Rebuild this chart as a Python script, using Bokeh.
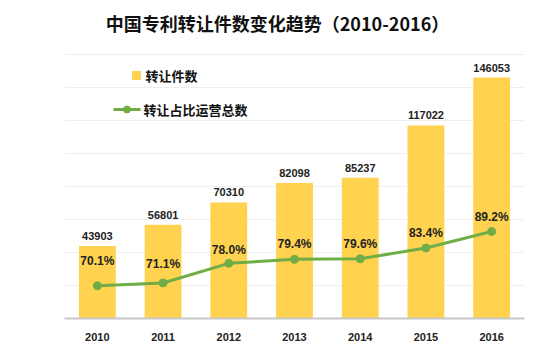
from bokeh.plotting import figure
from bokeh.models import Range1d, FixedTicker, Label, ColumnDataSource
from bokeh.core.properties import value
from bokeh.embed import file_html
from bokeh.resources import INLINE

years = ["2010", "2011", "2012", "2013", "2014", "2015", "2016"]
transfers = [43903, 56801, 70310, 82098, 85237, 117022, 146053]
share_pct = [70.1, 71.1, 78.0, 79.4, 79.6, 83.4, 89.2]
pct_labels = ["70.1%", "71.1%", "78.0%", "79.4%", "79.6%", "83.4%", "89.2%"]
grid_values = [20000, 40000, 60000, 80000, 100000, 120000, 140000, 160000]
title_text = "中国专利转让件数变化趋势（2010-2016）"
legend_bar = "转让件数"
legend_line = "转让占比运营总数"

# styling
pct_label_dy = [-25, -19, -13, -15, -15, -15, -15]
BAR = "#FFD34F"
LINE = "#70AD47"
CJK = "Noto Sans CJK SC"
NUM = "Liberation Sans"

# frame covers the canvas from the top down to the baseline (y=318 px);
# 160000 sits 264 px above the baseline, percentage scale 2.843 px per point from 58.6
ppx = 7 / 460.0
ppy = 160000 / 264.0
Y_END = 318 * ppy
PCT_START = 58.6
PCT_END = PCT_START + 318 / 2.843

def dx(px):
    return (px - 64) * ppx
def dy(py):
    return (318 - py) * ppy

xs = [i + 0.5 for i in range(len(years))]
src = ColumnDataSource(dict(
    x=xs, year=years, v=transfers, vlab=[str(t) for t in transfers],
    p=share_pct, plab=pct_labels, pdy=pct_label_dy,
))

p = figure(width=554, height=352, output_backend="svg", toolbar_location=None,
           x_range=Range1d(0, 7), y_range=Range1d(0, Y_END),
           min_border_left=64, min_border_right=30, min_border_top=0, min_border_bottom=34)
p.outline_line_color = None
p.background_fill_color = "white"
p.border_fill_color = "white"
p.xgrid.visible = False
p.ygrid.ticker = FixedTicker(ticks=grid_values)
p.ygrid.grid_line_color = "#eeeeee"
p.ygrid.grid_line_width = 1
p.yaxis.visible = False

p.xaxis.ticker = FixedTicker(ticks=xs)
p.xaxis.major_label_overrides = {x: y for x, y in zip(xs, years)}
p.xaxis.axis_line_color = "#c8c8c8"
p.xaxis.axis_line_width = 2
p.xaxis.major_tick_line_color = None
p.xaxis.minor_tick_line_color = None
p.xaxis.major_label_text_font = NUM
p.xaxis.major_label_text_font_style = "bold"
p.xaxis.major_label_text_font_size = "11px"
p.xaxis.major_label_text_color = "#222222"
p.xaxis.major_label_standoff = 8

p.extra_y_ranges = {"pct": Range1d(PCT_START, PCT_END)}

p.vbar(x="x", top="v", width=0.56, bottom=0, source=src, fill_color=BAR, line_color=None)
p.text(x="x", y="v", text="vlab", source=src, text_align="center", text_baseline="bottom",
       y_offset=-6, text_font=value(NUM), text_font_style="bold", text_font_size="11px",
       text_color="#222222")

p.line(x="x", y="p", source=src, y_range_name="pct", line_color=LINE, line_width=3)
p.scatter(x="x", y="p", source=src, y_range_name="pct", size=8, fill_color=LINE, line_color=LINE)
p.text(x="x", y="p", text="plab", source=src, y_range_name="pct", text_align="center",
       text_baseline="middle", y_offset="pdy", text_font=value(NUM), text_font_style="bold",
       text_font_size="12px", text_color="#222222")

# legend (manual)
p.scatter(x=[dx(136)], y=[dy(75)], marker="square", size=9, fill_color=BAR, line_color=None)
p.add_layout(Label(x=dx(145), y=dy(75), text=legend_bar, text_baseline="middle",
                   text_font=CJK, text_font_style="bold", text_font_size="13px",
                   text_color="#111111"))
p.line(x=[dx(113), dx(140)], y=[dy(109), dy(109)], line_color=LINE, line_width=3)
p.scatter(x=[dx(126.5)], y=[dy(109)], size=7, fill_color=LINE, line_color=LINE)
p.add_layout(Label(x=dx(143), y=dy(109), text=legend_line, text_baseline="middle",
                   text_font=CJK, text_font_style="bold", text_font_size="13px",
                   text_color="#111111"))

# title
p.add_layout(Label(x=dx(277), y=dy(22), text=title_text, text_align="center",
                   text_baseline="middle", text_font=CJK, text_font_style="bold",
                   text_font_size="18px", text_color="#111111"))

open("out.html", "w").write(file_html(p, INLINE))
